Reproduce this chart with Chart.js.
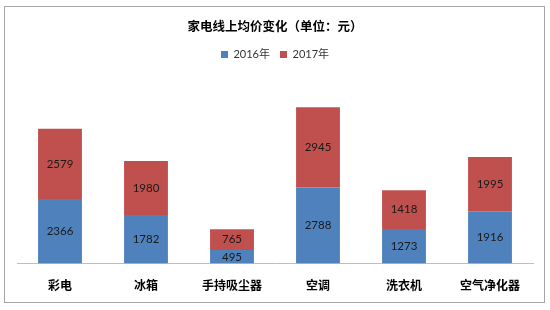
<!DOCTYPE html>
<html><head><meta charset="utf-8">
<script src="https://cdn.jsdelivr.net/npm/chart.js@4/dist/chart.umd.min.js"></script>
<style>html,body{margin:0;padding:0;background:#fff;}#wrap{width:550px;height:310px;position:relative;}</style>
</head><body><div id="wrap"><canvas id="c" width="550" height="310"></canvas></div>
<script>
const categories = ['彩电','冰箱','手持吸尘器','空调','洗衣机','空气净化器'];
const values2016 = [2366,1782,495,2788,1273,1916];
const values2017 = [2579,1980,765,2945,1418,1995];
const seriesNames = ['2016年','2017年'];

const framePlugin = {
  id:'frame',
  beforeDraw(chart){
    const ctx = chart.ctx;
    ctx.save();
    ctx.fillStyle='#fff';
    ctx.fillRect(0,0,chart.width,chart.height);
    ctx.strokeStyle='#a6a6a6';
    ctx.lineWidth=1;
    ctx.strokeRect(4.5,6.5,540,296);
    ctx.restore();
  }
};
const labelPlugin = {
  id:'vlabels',
  afterDatasetsDraw(chart){
    const ctx = chart.ctx;
    ctx.save();
    ctx.font = '11.5px Lato, "Noto Sans", sans-serif';
    ctx.fillStyle = '#1a1a1a';
    ctx.textAlign='center';
    ctx.textBaseline='middle';
    chart.data.datasets.forEach((ds,i)=>{
      chart.getDatasetMeta(i).data.forEach((bar,j)=>{
        const p = bar.getProps(['x','y','base'],true);
        ctx.fillText(String(ds.data[j]), p.x, (p.y+p.base)/2);
      });
    });
    ctx.restore();
  }
};

new Chart(document.getElementById('c'),{
  type:'bar',
  data:{
    labels:categories,
    datasets:[
      {label:seriesNames[0],data:values2016,backgroundColor:'#4F81BD',borderWidth:0},
      {label:seriesNames[1],data:values2017,backgroundColor:'#C0504D',borderWidth:0}
    ]
  },
  options:{
    responsive:false,
    animation:false,
    layout:{padding:{top:19,left:17,right:17,bottom:2}},
    datasets:{bar:{categoryPercentage:1,barPercentage:0.51}},
    plugins:{
      title:{display:true,text:'家电线上均价变化（单位：元）',color:'#000',
        font:{family:'"Noto Sans CJK SC", sans-serif',size:12.5,weight:'bold'},padding:{top:0,bottom:5}},
      legend:{display:true,position:'top',
        labels:{boxWidth:7,boxHeight:7,padding:10,color:'#333',
          font:{family:'Lato, "Noto Sans CJK SC", sans-serif',size:11}}},
      tooltip:{enabled:false}
    },
    scales:{
      x:{stacked:true,grid:{display:false,drawTicks:false},
        border:{display:true,color:'#bfbfbf'},
        ticks:{color:'#000',padding:15,font:{family:'"Noto Sans CJK SC", sans-serif',size:12,weight:'bold'}}},
      y:{stacked:true,display:false,min:0,max:7100}
    }
  },
  plugins:[framePlugin,labelPlugin]
});
</script></body></html>
